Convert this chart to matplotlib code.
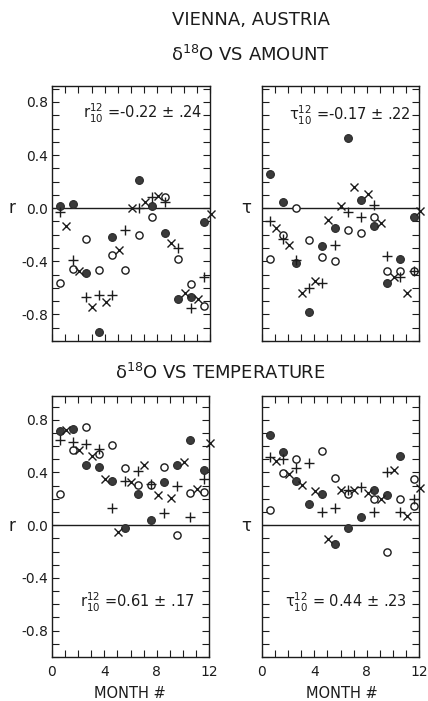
import numpy as np
import matplotlib
matplotlib.use("Agg")
import matplotlib.pyplot as plt
from matplotlib.ticker import FixedLocator, FuncFormatter

nan = np.nan
months = np.arange(1, 13)

# ---- delta18O vs amount : correlation coefficient r ----
amt_r_filled = [0.02, 0.03, -0.485, -0.93, -0.215, nan, 0.215, 0.02, -0.19, -0.685, -0.665, -0.105]
amt_r_open   = [-0.56, -0.46, -0.23, -0.465, -0.35, -0.465, -0.20, -0.07, 0.085, -0.38, -0.57, -0.74]
amt_r_plus   = [-0.03, -0.39, -0.665, -0.65, -0.65, -0.165, 0.005, 0.085, 0.048, -0.30, -0.75, -0.52]
amt_r_cross  = [-0.135, -0.475, -0.745, -0.71, -0.315, 0.005, 0.05, 0.095, -0.265, -0.64, -0.68, -0.04]

# ---- delta18O vs amount : Kendall tau ----
amt_t_filled = [0.26, 0.05, -0.41, -0.78, -0.285, -0.15, 0.53, 0.065, -0.135, -0.56, -0.38, -0.07]
amt_t_open   = [-0.38, -0.205, 0.005, -0.24, -0.37, -0.40, -0.165, -0.19, -0.07, -0.47, -0.47, -0.47]
amt_t_plus   = [-0.10, -0.23, -0.39, -0.60, -0.56, -0.28, -0.03, -0.07, 0.025, -0.36, -0.52, -0.47]
amt_t_cross  = [-0.15, -0.28, -0.64, -0.55, -0.09, 0.02, 0.16, 0.11, -0.11, -0.52, -0.64, -0.02]

# ---- delta18O vs temperature : r ----
tmp_r_filled = [0.716, 0.732, 0.456, 0.438, 0.332, -0.025, 0.235, 0.04, 0.327, 0.456, 0.643, 0.418]
tmp_r_open   = [0.238, 0.567, 0.744, 0.539, 0.608, 0.43, 0.306, 0.306, 0.44, -0.078, 0.243, 0.248]
tmp_r_plus   = [0.648, 0.63, 0.615, 0.577, 0.134, 0.332, 0.41, 0.31, 0.09, 0.294, 0.06, 0.352]
tmp_r_cross  = [0.724, 0.567, 0.527, 0.35, -0.048, 0.324, 0.458, 0.23, 0.203, 0.478, 0.278, 0.623]

# ---- delta18O vs temperature : tau ----
tmp_t_filled = [0.684, 0.557, 0.332, 0.16, 0.24, -0.142, -0.025, 0.063, 0.266, 0.23, 0.527, nan]
tmp_t_open_months = [1, 2, 3, 5, 6, 7, 9, 10, 11, 12, 12]
tmp_t_open   = [0.116, 0.395, 0.50, 0.56, 0.357, 0.235, 0.20, -0.20, 0.20, 0.35, 0.147]
tmp_t_plus   = [0.514, 0.50, 0.43, 0.47, 0.10, 0.134, 0.27, 0.29, 0.10, 0.40, 0.10, 0.20]
tmp_t_cross  = [0.486, 0.387, 0.304, 0.26, -0.106, 0.27, 0.27, 0.243, 0.20, 0.42, 0.066, 0.28]

titles = ["VIENNA, AUSTRIA", "\u03b4$^{18}$O VS AMOUNT", "\u03b4$^{18}$O VS TEMPERATURE"]
stats = [r"$\mathregular{r^{12}_{10}}$ =-0.22 " + "\u00b1 .24",
         "\u03c4$^{12}_{10}$ =-0.17 \u00b1 .22",
         r"$\mathregular{r^{12}_{10}}$ =0.61 " + "\u00b1 .17",
         "\u03c4$^{12}_{10}$ = 0.44 \u00b1 .23"]
ylab = ["r", "\u03c4"]
xlabel = "MONTH #"
yticks_lab = [-0.8, -0.4, 0.0, 0.4, 0.8]
xticks_lab = [0, 4, 8, 12]

plt.rcParams['font.family'] = ['DejaVu Sans']
plt.rcParams['mathtext.fontset'] = 'dejavusans'

W, H = 428, 701
fig = plt.figure(figsize=(W / 100, H / 100), dpi=100)
INK = '#1c1c1c'


def rect(x0, y0, x1, y1):
    return [x0 / W, 1 - y1 / H, (x1 - x0) / W, (y1 - y0) / H]


def px(x, y):
    return x / W, 1 - y / H


off_c, off_x = -0.42, 0.07


def ylabfmt(v, p):
    for t in yticks_lab:
        if abs(v - t) < 1e-6:
            return f"{abs(t):.1f}" if t == 0 else f"{t:.1f}"
    return ""


def panel(r, filled, open_, plus, cross, ylim, left, bottom, open_months=None):
    ax = fig.add_axes(r)
    ax.set_xlim(0, 12)
    ax.set_ylim(*ylim)
    ax.axhline(0, color=INK, lw=1.0)
    om = months if open_months is None else np.array(open_months)
    kw = dict(ls='none', clip_on=False, zorder=3)
    ax.plot(months + off_c, filled, 'o', ms=5.6, mfc='#3b3b3b', mec='#2a2a2a', mew=0.8, **kw)
    ax.plot(om + off_c, open_, 'o', ms=5.2, mfc='white', mec=INK, mew=1.0, **kw)
    ax.plot(months + off_c, plus, '+', ms=6.5, mec=INK, mew=1.0, **kw)
    ax.plot(months + off_x, cross, 'x', ms=5.5, mec=INK, mew=1.0, **kw)
    for s in ax.spines.values():
        s.set_color(INK)
        s.set_linewidth(1.0)
    yt = np.round(np.arange(-1.0, ylim[1], 0.1), 1)
    ax.yaxis.set_major_locator(FixedLocator(yt))
    ax.xaxis.set_major_locator(FixedLocator(np.arange(0, 13)))
    if left:
        ax.yaxis.set_major_formatter(FuncFormatter(ylabfmt))
    else:
        ax.yaxis.set_major_formatter(FuncFormatter(lambda v, p: ""))
    if bottom:
        ax.xaxis.set_major_formatter(FuncFormatter(
            lambda v, p: (f"{int(round(v))}" if int(round(v)) in xticks_lab else "")))
    else:
        ax.xaxis.set_major_formatter(FuncFormatter(lambda v, p: ""))
    ax.tick_params(which='both', direction='in', length=5, width=0.8, color=INK,
                   top=True, right=True, labelsize=10, labelcolor=INK, pad=3)
    ax.tick_params(axis='x', pad=6)
    return ax


panel(rect(52, 86, 210, 341), amt_r_filled, amt_r_open, amt_r_plus, amt_r_cross,
      (-1.0, 0.92), True, False)
panel(rect(262, 86, 419, 341), amt_t_filled, amt_t_open, amt_t_plus, amt_t_cross,
      (-1.0, 0.92), False, False)
panel(rect(52, 396, 209, 657), tmp_r_filled, tmp_r_open, tmp_r_plus, tmp_r_cross,
      (-1.0, 0.98), True, True)
panel(rect(262, 396, 419, 657), tmp_t_filled, tmp_t_open, tmp_t_plus, tmp_t_cross,
      (-1.0, 0.98), False, True, open_months=tmp_t_open_months)

# titles
fig.text(*px(251, 20), titles[0], ha='center', va='center', fontsize=13, color=INK)
fig.text(*px(250, 55), titles[1], ha='center', va='center', fontsize=13, color=INK)
fig.text(*px(220, 373), titles[2], ha='center', va='center', fontsize=13, color=INK)

# axis symbols
for yy in (208, 526):
    fig.text(*px(12, yy), ylab[0], ha='center', va='center', fontsize=12, color=INK)
    fig.text(*px(246, yy), ylab[1], ha='center', va='center', fontsize=12, color=INK)

# statistics
fig.text(*px(142, 113), stats[0], ha='center', va='center', fontsize=10.5, color=INK)
fig.text(*px(350, 115), stats[1], ha='center', va='center', fontsize=10.5, color=INK)
fig.text(*px(137, 602), stats[2], ha='center', va='center', fontsize=10.5, color=INK)
fig.text(*px(346, 602), stats[3], ha='center', va='center', fontsize=10.5, color=INK)

# x labels
fig.text(*px(130, 693), xlabel, ha='center', va='center', fontsize=10.5, color=INK)
fig.text(*px(342, 693), xlabel, ha='center', va='center', fontsize=10.5, color=INK)

fig.savefig("out.png", dpi=100, facecolor='white')
